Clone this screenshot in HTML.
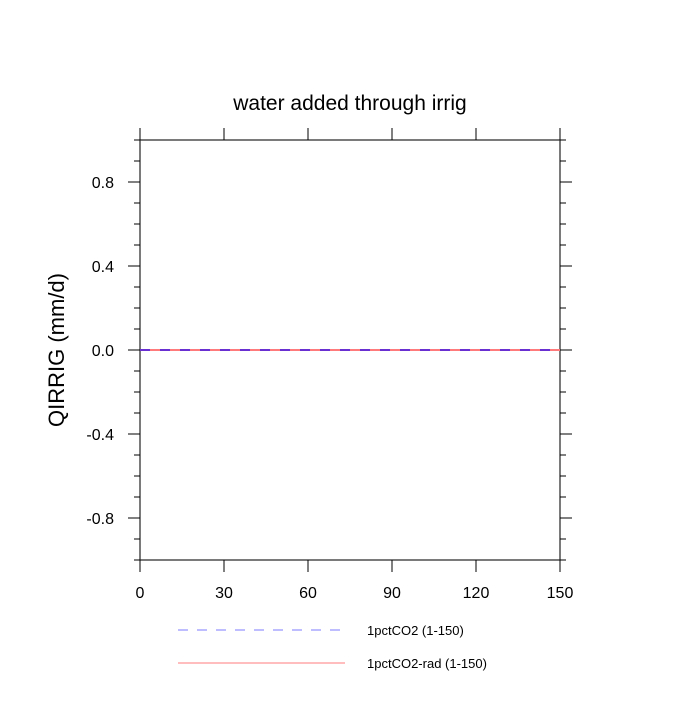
<!DOCTYPE html>
<html><head><style>body{margin:0;background:#fff}svg{font-family:"Liberation Sans",sans-serif}</style></head>
<body>
<svg width="700" height="700" id="c">
<text x="350" y="110" text-anchor="middle" font-size="21">water added through irrig</text>
<text transform="translate(64,350) rotate(-90)" text-anchor="middle" font-size="22">QIRRIG  (mm/d)</text>
<g id="axes"></g>
<g id="series"></g>
<g>
<line x1="178" y1="630" x2="345" y2="630" stroke="#7b7bff" stroke-width="1" stroke-dasharray="10,9"/>
<text x="367" y="635" font-size="13">1pctCO2 (1-150)</text>
<line x1="178" y1="663" x2="345" y2="663" stroke="#ff7b7b" stroke-width="1"/>
<text x="367" y="668" font-size="13">1pctCO2-rad (1-150)</text>
</g>
</svg>
<script>
const xTicks=[0,30,60,90,120,150];
const yTicks=[-0.8,-0.4,0.0,0.4,0.8];
const yTickLabels=["-0.8","-0.4","0.0","0.4","0.8"];
const years=[0,150];
const series1=[0,0];
const series2=[0,0];
const X=v=>140+(v-0)/150*420, Y=v=>350-v*210;
const NS="http://www.w3.org/2000/svg";
const ax=document.getElementById('axes'), sr=document.getElementById('series');
function mk(p,t,a){const e=document.createElementNS(NS,t);for(const k in a)e.setAttribute(k,a[k]);p.appendChild(e);return e;}
const fr=mk(ax,'rect',{x:140,y:140,width:420,height:420,fill:'none',stroke:'#222','stroke-width':1.2});


xTicks.forEach(v=>{const x=X(v);
 const t1=mk(ax,'line',{x1:x,y1:560,x2:x,y2:572,stroke:'#000'});
 
 
 mk(ax,'line',{x1:x,y1:140,x2:x,y2:128,stroke:'#000'});
 const l=mk(ax,'text',{x:x,y:598,'text-anchor':'middle','font-size':16});l.textContent=v;
 
 
});
for(let i=-10;i<=10;i++){const v=i/10,y=Y(v);
 if(i%4===0)continue;
 mk(ax,'line',{x1:140,y1:y,x2:134,y2:y,stroke:'#000'});
 mk(ax,'line',{x1:560,y1:y,x2:566,y2:y,stroke:'#000'});
}
yTicks.forEach((v,i)=>{const y=Y(v);
 const t=mk(ax,'line',{x1:140,y1:y,x2:128,y2:y,stroke:'#000'});
 
 
 mk(ax,'line',{x1:560,y1:y,x2:572,y2:y,stroke:'#000'});
 const l=mk(ax,'text',{x:114,y:y+6,'text-anchor':'end','font-size':16});l.textContent=yTickLabels[i];
 
 
});
function pts(s){return years.map((yr,i)=>X(yr)+','+Y(s[i])).join(' ');}
const p2=mk(sr,'polyline',{points:pts(series2),fill:'none',stroke:'#ff7b7b','stroke-width':2});


const p1=mk(sr,'polyline',{points:pts(series1),fill:'none',stroke:'#6a2fd0','stroke-width':2,'stroke-dasharray':'10,10'});


</script>
</body></html>
